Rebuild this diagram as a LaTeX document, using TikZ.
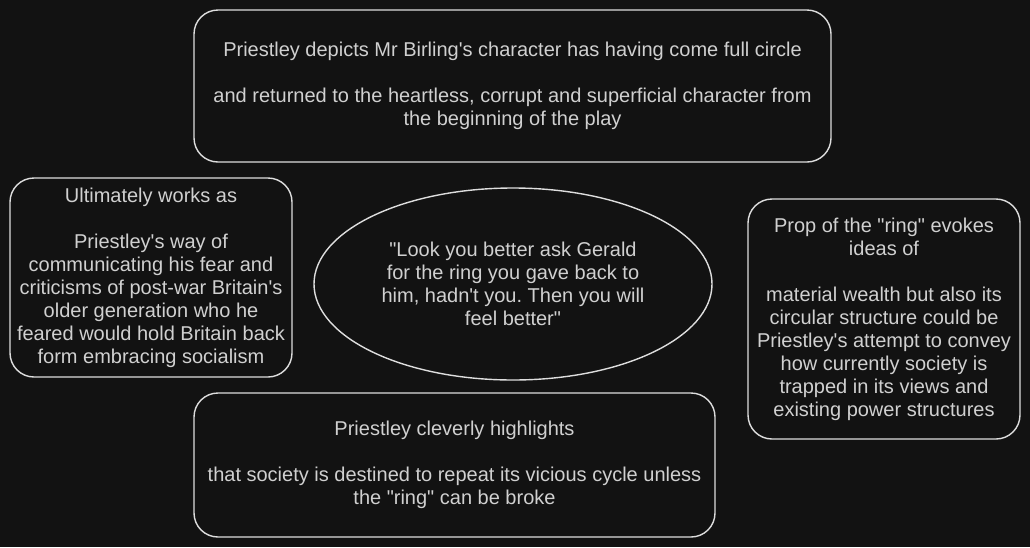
\documentclass[tikz,border=0pt]{standalone}
\usepackage{fontspec}
\newfontfamily\notefont{Liberation Sans}
\usepackage{xcolor}
\usetikzlibrary{positioning}
\usetikzlibrary{shapes.geometric}
\definecolor{boardbg}{HTML}{121212}
\definecolor{chalk}{HTML}{DEDEDE}
\definecolor{chalktext}{HTML}{D0D0D0}
\frenchspacing
\tikzstyle{note} = [draw=chalk, line width=1.4pt, rounded corners=24pt, text=chalktext, align=center, inner sep=0pt, font=\notefont\fontsize{20}{23}\selectfont]
\tikzstyle{oval} = [ellipse, draw=chalk, line width=1.4pt, text=chalktext, align=center, inner sep=0pt, font=\notefont\fontsize{20}{23}\selectfont]

\begin{document}
\begin{tikzpicture}[x=1pt,y=-1pt]
\fill [boardbg] (0,0) rectangle (1030,547);
\useasboundingbox (0,0) rectangle (1030,547);
\draw (512.5,86) node (circle) [note, minimum width=637pt, minimum height=152pt] {Priestley depicts Mr Birling's character has having come full circle\\[23pt]and returned to the heartless, corrupt and superficial character from\\the beginning of the play};
\draw (151,277.5) node (fear) [note, minimum width=282pt, minimum height=199pt] {Ultimately works as\\[23pt]Priestley's way of\\communicating his fear and\\criticisms of post-war Britain's\\older generation who he\\feared would hold Britain back\\form embracing socialism};
\draw (513,284) node (quote) [oval, minimum width=398pt, minimum height=192pt] {"Look you better ask Gerald\\for the ring you gave back to\\him, hadn't you. Then you will\\feel better"};
\draw (884,319) node (ring) [note, minimum width=272pt, minimum height=240pt] {Prop of the "ring" evokes\\ideas of\\[23pt]material wealth but also its\\circular structure could be\\Priestley's attempt to convey\\how currently society is\\trapped in its views and\\existing power structures};
\draw (454.5,465) node (cycle) [note, minimum width=521pt, minimum height=144pt] {Priestley cleverly highlights\\[23pt]that society is destined to repeat its vicious cycle unless\\the "ring" can be broke};
\end{tikzpicture}
\end{document}
